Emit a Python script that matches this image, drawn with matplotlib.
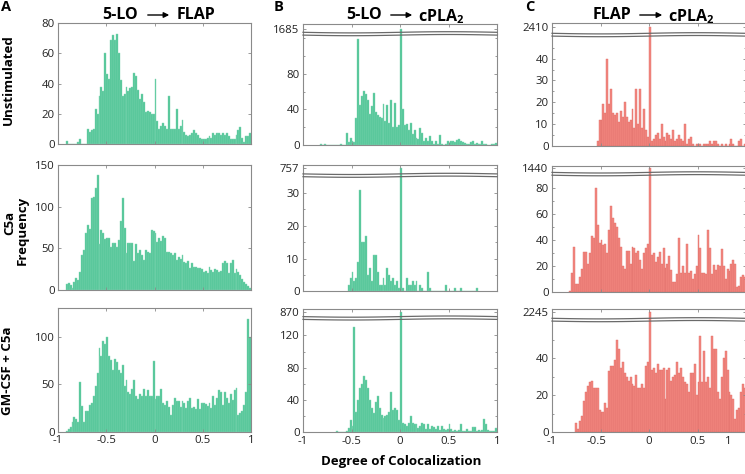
import numpy as np
import matplotlib
matplotlib.use('Agg')
import matplotlib.pyplot as plt
from matplotlib.lines import Line2D
from matplotlib.patches import FancyArrowPatch
from matplotlib.transforms import ScaledTranslation

plt.rcParams['font.family'] = ['Open Sans', 'DejaVu Sans']
plt.rcParams['mathtext.fontset'] = 'custom'
plt.rcParams['mathtext.bf'] = 'Open Sans:bold'
plt.rcParams['mathtext.rm'] = 'Open Sans'

W, H = 745, 474
BIN = 0.02

# ---------------- data (counts per 0.02-wide bin, first bin left edge) ----------------
# Column A: 5-LO -> FLAP
a_unstim_start = -0.92
a_unstim = [2, 0, 0, 0, 0, 0, 1, 3, 0, 0, 0,
            10, 8, 9, 10, 23, 20, 32, 38, 35, 60,
            46, 43, 69, 72, 69, 73, 60, 42, 32, 33,
            38, 35, 37, 38, 47, 45, 36, 30, 33, 28,
            21, 22, 21, 20, 20, 43, 15, 10, 12, 14,
            12, 10, 32, 10, 10, 10, 23, 10, 12, 16,
            8, 6, 5, 6, 7, 9, 7, 6, 4, 3,
            3, 3, 4, 5, 4, 7, 6, 7, 7, 6,
            7, 6, 7, 5, 3, 3, 3, 6, 9, 11,
            4, 1, 5, 5, 7]
a_c5a_start = -0.92
a_c5a = [7, 8, 6, 3, 10, 15, 12, 22, 42, 48,
         68, 78, 73, 110, 112, 122, 138, 55, 72, 68,
         61, 63, 62, 52, 57, 56, 52, 60, 83, 110,
         74, 45, 56, 56, 56, 35, 55, 45, 48, 42,
         36, 48, 46, 45, 72, 71, 68, 58, 62, 59,
         65, 63, 46, 46, 44, 42, 44, 36, 40, 37,
         42, 34, 32, 35, 26, 32, 28, 28, 26, 26,
         25, 22, 23, 20, 28, 24, 22, 25, 24, 22,
         23, 32, 35, 33, 20, 32, 36, 20, 25, 22,
         18, 13, 10, 7, 5, 3]
a_gm_start = -0.92
a_gm = [1, 3, 5, 10, 16, 14, 10, 52, 27, 10,
        22, 22, 28, 30, 38, 48, 62, 88, 80, 95,
        92, 100, 80, 75, 65, 77, 73, 65, 62, 70,
        48, 55, 42, 40, 45, 55, 38, 35, 40, 38,
        45, 38, 44, 38, 38, 74, 35, 38, 38, 45,
        30, 28, 32, 26, 18, 28, 36, 32, 33, 26,
        33, 30, 25, 33, 36, 25, 26, 24, 35, 24,
        30, 30, 29, 27, 30, 25, 38, 28, 36, 44,
        42, 28, 42, 36, 30, 40, 34, 44, 46, 18,
        20, 22, 28, 42, 118, 100]

# Column B: 5-LO -> cPLA2
b_unstim_start = -0.82
b_unstim = [1, 0, 1, 0, 0, 0, 0, 0, 0, 0, 1, 0, 0,
            14, 3, 8, 4, 3, 30, 119, 45, 55, 61,
            57, 50, 35, 44, 58, 37, 34, 32, 30, 46,
            27, 45, 25, 50, 20, 47, 20, 22, 1685, 40,
            23, 24, 17, 25, 12, 17, 8, 7, 19, 14,
            5, 8, 4, 10, 4, 1, 4, 1, 11, 1,
            0, 1, 5, 2, 4, 5, 3, 6, 7, 5,
            3, 2, 1, 1, 3, 4, 1, 2, 1, 1,
            4, 1, 1, 0, 0, 1, 1, 2]
b_c5a_start = -0.54
b_c5a = [2, 4, 6, 3, 4, 9, 31, 15, 15, 17,
         5, 7, 3, 11, 11, 6, 2, 2, 4, 2,
         7, 5, 3, 4, 2, 3, 1, 757,
         1, 0, 4, 2, 2, 3, 2, 3, 0, 2, 1, 0, 0, 6, 1,
         0, 0, 0, 0, 0, 0, 0, 2, 0, 0, 0, 0, 1, 0, 0, 1,
         0, 0, 0, 0, 0, 0, 0, 1]
b_gm_start = -0.66
b_gm = [2, 0, 0, 0, 0, 2, 5,
        15, 8, 130, 25, 40, 55, 60, 70, 65, 55,
        40, 30, 24, 38, 45, 30, 22, 18, 20, 22,
        25, 50, 27, 30, 28, 15, 870,
        12, 10, 8, 12, 20, 12, 10, 10, 5, 8,
        12, 10, 4, 10, 4, 8, 7, 4, 8, 3,
        8, 4, 3, 4, 10, 4, 2, 3, 2, 3,
        10, 2, 2, 4, 2, 2, 6, 7, 2, 3,
        2, 3, 17, 10, 3, 2, 2, 2, 5]

# Column C: FLAP -> cPLA2
c_unstim_start = -0.54
c_unstim = [2, 12, 12, 19, 15, 40, 19, 26, 15, 14,
            15, 11, 16, 13, 20, 13, 11, 12, 17, 8,
            26, 10, 26, 8, 17, 7, 4, 2410,
            2, 3, 5, 6, 3, 10, 4, 2, 6, 5,
            3, 7, 2, 3, 5, 3, 2, 10, 1, 3,
            4, 1, 0, 1, 1, 1, 0, 1, 1, 1,
            2, 1, 2, 2, 1, 0, 1, 0, 1, 0,
            1, 3, 1, 0, 0, 2, 3, 0, 1]
c_c5a_start = -0.82
c_c5a = [1, 15, 35, 6, 6, 12, 18, 31, 31, 22,
         30, 43, 42, 80, 52, 38, 40, 36, 37, 30,
         48, 66, 57, 53, 50, 42, 35, 20, 18, 32,
         32, 22, 35, 34, 30, 32, 25, 18, 30, 34,
         37, 1440,
         29, 30, 23, 27, 31, 22, 34, 19, 22, 28,
         17, 8, 8, 14, 42, 15, 20, 15, 37, 15,
         16, 10, 14, 20, 44, 34, 15, 15, 14, 48,
         34, 14, 21, 17, 21, 20, 33, 20, 10, 18,
         16, 22, 25, 22, 4, 5, 12, 13, 12]
c_gm_start = -0.76
c_gm = [5, 2, 6, 9, 17, 22, 25, 27, 28, 24,
        24, 24, 12, 11, 11, 16, 13, 33, 36, 36,
        39, 50, 45, 35, 38, 32, 30, 28, 30, 26,
        25, 31, 24, 24, 26, 24, 36, 38, 2245,
        34, 35, 32, 37, 34, 34, 35, 18, 34, 35,
        28, 30, 31, 38, 32, 35, 30, 27, 26, 22,
        32, 32, 37, 20, 27, 52, 27, 44, 27, 30,
        24, 52, 45, 45, 22, 18, 30, 40, 44, 34,
        22, 20, 18, 7, 12, 13, 22, 26, 24]

x_ticks = [-1, -0.5, 0, 0.5, 1]
x_ticklabels = ['-1', '-0.5', '0', '0.5', '1']
row_names = ['Unstimulated', 'C5a', 'GM-CSF + C5a']

# ---------------- figure ----------------
fig = plt.figure(figsize=(W / 100, H / 100), dpi=100)

GREEN_FACE, GREEN_EDGE = '#4fc496', '#86d8b6'
RED_FACE, RED_EDGE = '#f3877f', '#de6d67'
SPINE = '#8a8a8a'
TXT = '#222222'


def px_axes(l, t, r, b):
    return fig.add_axes([l / W, 1 - b / H, (r - l) / W, (b - t) / H])


def draw_bars(ax, start, counts, face, edge):
    counts = np.asarray(counts, float)
    left = start + BIN * np.arange(len(counts))
    ax.bar(left, counts, width=BIN, align='edge', color=face,
           edgecolor=edge, linewidth=0.3)


def style(ax, xlabels):
    ax.set_xlim(-1, 1)
    ax.set_xticks(x_ticks)
    ax.tick_params(which='both', direction='in', color=SPINE, top=True, right=True,
                   labelsize=8.2, labelcolor=TXT, pad=2.5, width=0.6)
    ax.tick_params(which='major', length=2.5)
    ax.tick_params(which='minor', length=1.5)
    if xlabels:
        ax.set_xticklabels(x_ticklabels)
    else:
        ax.set_xticklabels([])
    for s in ax.spines.values():
        s.set_color(SPINE)
        s.set_linewidth(0.8)


def wave(xl, xr, y, amp=0.6, phase=0.0):
    xs = np.linspace(xl, xr, 120)
    ys = y + amp * np.sin(2 * np.pi * (xs - xl) / (xr - xl) + phase)
    fig.add_artist(Line2D(xs / W, 1 - ys / H, color='#6a6a6a', lw=0.9,
                          transform=fig.transFigure))


# Column A (plain axes)
colA = (58, 251)
rowsA = [(23, 144), (165, 290), (308, 432)]
dataA = [(a_unstim_start, a_unstim, 80, [0, 20, 40, 60, 80]),
         (a_c5a_start, a_c5a, 150, [0, 50, 100, 150]),
         (a_gm_start, a_gm, 130, [0, 50, 100])]
for i, ((t, b), (st, cnt, ymax, yt)) in enumerate(zip(rowsA, dataA)):
    ax = px_axes(colA[0], t, colA[1], b)
    draw_bars(ax, st, cnt, GREEN_FACE, GREEN_EDGE)
    style(ax, i == 2)
    ax.set_ylim(0, ymax)
    ax.set_yticks(yt)


# Columns B and C (broken axes)
def broken(col, top, junc, bottom, st, cnt, ymax, yt, ymin_t, spike, frac, face, edge, last):
    l, r = col
    up = px_axes(l, top, r, junc)
    lo = px_axes(l, junc, r, bottom)
    for ax in (up, lo):
        draw_bars(ax, st, cnt, face, edge)
    style(lo, last)
    style(up, False)
    lo.set_ylim(0, ymax)
    lo.set_yticks(yt)
    lo.set_yticks(ymin_t, minor=True)
    lo.spines['top'].set_visible(False)
    up.spines['bottom'].set_visible(False)
    up.tick_params(bottom=False, which='both')
    lo.tick_params(top=False, which='both')
    D = spike * 0.05
    up.set_ylim(spike - (1 - frac) * D, spike + frac * D)
    up.set_yticks([spike])
    up.set_yticklabels([str(spike)])
    wave(l, min(r, W), junc - 1.4, phase=0.0)
    wave(l, min(r, W), junc + 1.4, phase=0.0)
    return lo


colB = (303, 497)
colC = (552, 746)
specsB = [(24, 33.7, 145, b_unstim_start, b_unstim, 125, [0, 40, 80], [20, 60, 100, 120], 1685, 0.5),
          (165, 175.3, 291.3, b_c5a_start, b_c5a, 35.4, [0, 10, 20, 30], [5, 15, 25], 757, 0.25),
          (309.3, 318, 432.3, b_gm_start, b_gm, 141.5, [0, 40, 80, 120], [20, 60, 100], 870, 0.3)]
specsC = [(23.3, 34.7, 145.7, c_unstim_start, c_unstim, 51, [0, 10, 20, 30, 40], [5, 15, 25, 35, 45], 2410, 0.35),
          (166, 173.8, 292.3, c_c5a_start, c_c5a, 91, [0, 20, 40, 60, 80], [10, 30, 50, 70], 1440, 0.2),
          (309.3, 319.7, 432.3, c_gm_start, c_gm, 61, [0, 20, 40], [10, 30, 50], 2245, 0.25)]
for i, sp in enumerate(specsB):
    broken(colB, *sp, GREEN_FACE, GREEN_EDGE, i == 2)
for i, sp in enumerate(specsC):
    lo = broken(colC, *sp, RED_FACE, RED_EDGE, i == 2)
    if i == 2:
        lab = lo.get_xticklabels()[-1]
        lab.set_transform(lab.get_transform() + ScaledTranslation(-18 / 100, 0, fig.dpi_scale_trans))
        lab2 = lo.get_xticklabels()[1]
        lab2.set_transform(lab2.get_transform() + ScaledTranslation(-4 / 100, 0, fig.dpi_scale_trans))


# ---------------- text ----------------
def ftext(x, y, s, **kw):
    fig.text(x / W, 1 - y / H, s, **kw)


title_kw = dict(fontsize=11.5, fontweight='bold', va='center', color='black')
titles = [(138, 145, 172, 177, '5-LO', 'FLAP'),
          (382, 388, 415, 418, '5-LO', r'$\mathbf{cPLA_2}$'),
          (631, 637, 665, 668, 'FLAP', r'$\mathbf{cPLA_2}$')]
for xr_, a0, a1, xl_, left_s, right_s in titles:
    ftext(xr_, 15, left_s, ha='right', **title_kw)
    ftext(xl_, 15 if 'cPLA' not in right_s else 16.4, right_s, ha='left', **title_kw)
    arr = FancyArrowPatch((a0 / W, 1 - 15 / H), (a1 / W, 1 - 15 / H),
                          transform=fig.transFigure, arrowstyle='-|>',
                          mutation_scale=8, lw=1.0, color='black')
    fig.add_artist(arr)

lab_kw = dict(fontsize=9.5, fontweight='bold', ha='center', va='center', rotation=90, color='black')
ftext(8, 80, row_names[0], **lab_kw)
ftext(10, 223, row_names[1], **lab_kw)
ftext(22, 230, 'Frequency', **lab_kw)
ftext(8, 371, row_names[2], **lab_kw)

let_kw = dict(fontsize=10.5, fontweight='bold', ha='center', va='center', color='black')
ftext(6.5, 7, 'A', **let_kw)
ftext(279, 7, 'B', **let_kw)
ftext(530, 7, 'C', **let_kw)

ftext(401, 462, 'Degree of Colocalization', fontsize=9.5, fontweight='bold',
      ha='center', va='center', color='black')

fig.savefig('out.png', dpi=100)
